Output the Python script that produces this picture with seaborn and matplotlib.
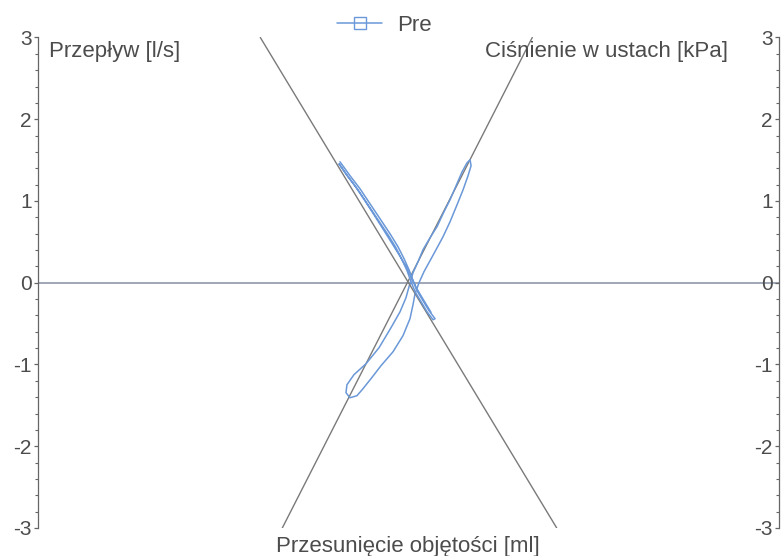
import matplotlib
matplotlib.use("Agg")
import matplotlib.pyplot as plt
from matplotlib.lines import Line2D
from matplotlib.ticker import MultipleLocator
import pandas as pd
import seaborn as sns

# Mouth pressure against box volume shift during the shutter manoeuvre (kPa)
pressure_volume = [-8.42, -7.19, -5.96, -4.73, -3.50, -2.27, -1.29, -0.55, 0.06, 0.55,
                   1.04, 1.78, 2.52, 3.26, 3.01, 2.27, 1.54, 0.80, 0.31, -0.18,
                   -0.80, -1.54, -2.52, -3.75, -4.98, -6.21, -7.44, -8.54,
                   -7.80, -6.60, -5.40, -4.10, -2.90, -1.80, -0.90, -0.20, 0.40,
                   0.95, 1.60, 2.20, 2.75]
pressure_kpa = [1.48, 1.31, 1.15, 0.966, 0.783, 0.599, 0.440, 0.294, 0.159, 0.024,
                -0.098, -0.220, -0.342, -0.440, -0.453, -0.355, -0.232, -0.110, 0.012, 0.147,
                0.281, 0.428, 0.587, 0.770, 0.954, 1.137, 1.296, 1.455,
                1.35, 1.19, 1.01, 0.81, 0.62, 0.445, 0.300, 0.180, 0.060,
                -0.060, -0.170, -0.270, -0.360]

# Flow against box volume shift during tidal breathing (l/s)
flow_volume = [0.18, 0.55, 1.17, 1.78, 2.64, 3.50, 4.24, 5.10, 5.84, 6.58, 7.19, 7.56,
               7.68, 7.31, 6.70, 5.96, 5.10, 4.24, 3.38, 2.64, 1.90, 1.29, 0.80,
               0.55, 0.18, -0.68, -1.90, -3.38, -4.61, -5.59, -6.33, -7.19, -7.68,
               -7.56, -6.70, -5.22, -3.62, -2.15, -1.04, -0.31, 0.06, 0.18]
flow_ls = [-0.012, 0.122, 0.257, 0.404, 0.550, 0.685, 0.844, 1.015, 1.186, 1.357, 1.468, 1.504,
           1.431, 1.309, 1.137, 0.954, 0.746, 0.563, 0.404, 0.269, 0.135, 0.0, -0.135,
           -0.269, -0.440, -0.648, -0.844, -1.015, -1.174, -1.296, -1.382, -1.407, -1.345,
           -1.248, -1.125, -0.991, -0.795, -0.550, -0.355, -0.183, -0.049, -0.012]

# Fitted lines through the loops
pressure_fit_volume = [-18.2, 18.2]
pressure_fit_kpa = [3.0, -3.0]
flow_fit_volume = [-15.5, 15.2]
flow_fit_ls = [-3.0, 3.0]

y_ticks = [-3, -2, -1, 0, 1, 2, 3]
series_label = "Pre"
flow_title = "Przepływ [l/s]"
pressure_title = "Ciśnienie w ustach [kPa]"
volume_title = "Przesunięcie objętości [ml]"

blue = "#6a98d8"
fit_grey = "#7a7a7a"
zero_grey = "#8590a3"
text_grey = "#4c4c4c"
spine_grey = "#666666"

sns.set_style("ticks")
plt.rcParams["font.family"] = ["Liberation Sans", "DejaVu Sans"]

fig = plt.figure(figsize=(7.82, 5.56), dpi=100)
ax = fig.add_axes([0.0486, 0.0504, 0.9476, 0.8822])
ax2 = ax.twinx()

pressure_df = pd.DataFrame({"volume": pressure_volume, "pressure": pressure_kpa})
flow_df = pd.DataFrame({"volume": flow_volume, "flow": flow_ls})

ax.axhline(0, color=zero_grey, lw=1.1, zorder=1)
sns.lineplot(x=pressure_fit_volume, y=pressure_fit_kpa, ax=ax2, color=fit_grey,
             lw=1.0, sort=False, estimator=None, zorder=1)
sns.lineplot(x=flow_fit_volume, y=flow_fit_ls, ax=ax, color=fit_grey,
             lw=1.0, sort=False, estimator=None, zorder=1)
sns.lineplot(data=flow_df, x="volume", y="flow", ax=ax, color=blue, lw=1.1,
             sort=False, estimator=None, zorder=3)
sns.lineplot(data=pressure_df, x="volume", y="pressure", ax=ax2, color=blue, lw=1.1,
             sort=False, estimator=None, zorder=3)

for a in (ax, ax2):
    a.set_xlim(-45.5, 45.5)
    a.set_ylim(-3, 3)
    a.set_xlabel("")
    a.set_ylabel("")
    a.set_yticks(y_ticks)
    a.yaxis.set_minor_locator(MultipleLocator(0.2))
    for s in a.spines.values():
        s.set_visible(False)
    a.patch.set_visible(False)

# flow axis on the left edge
ax.spines["left"].set_visible(True)
ax.spines["left"].set_color(spine_grey)
ax.spines["left"].set_linewidth(0.9)
ax.tick_params(axis="x", bottom=False, labelbottom=False)

# pressure axis drawn on the right edge with ticks and labels facing inward
ax2.yaxis.tick_left()
ax2.spines["left"].set_visible(True)
ax2.spines["left"].set_position(("axes", 1.0))
ax2.spines["left"].set_color(spine_grey)
ax2.spines["left"].set_linewidth(0.9)

for a in (ax, ax2):
    a.tick_params(axis="y", which="major", direction="out", length=3, width=0.9,
                  color=spine_grey, labelsize=15, labelcolor=text_grey, pad=1.5)
    a.tick_params(axis="y", which="minor", direction="out", length=2, width=0.8,
                  color=spine_grey)
    a.set_yticklabels([f"{t:g}" for t in y_ticks])

ax.text(0.0148, 0.993, flow_title, transform=ax.transAxes, ha="left", va="top",
        fontsize=16, color=text_grey)
ax.text(0.931, 0.993, pressure_title, transform=ax.transAxes, ha="right", va="top",
        fontsize=16, color=text_grey)
ax.set_xlabel(volume_title, fontsize=16, color=text_grey)
ax.xaxis.set_label_coords(0.4995, -0.016, transform=ax.transAxes)
ax.xaxis.label.set_va("top")

handle = Line2D([], [], color=blue, lw=1.1, marker="s", markersize=8,
                markerfacecolor="none", markeredgecolor=blue, markeredgewidth=1.0)
fig.legend(handles=[handle], labels=[series_label], loc="center",
           bbox_to_anchor=(0.492, 0.955), frameon=False, fontsize=16,
           handlelength=2.0, handletextpad=0.7, labelcolor=text_grey)

fig.savefig("out.png", dpi=100, facecolor="white")
